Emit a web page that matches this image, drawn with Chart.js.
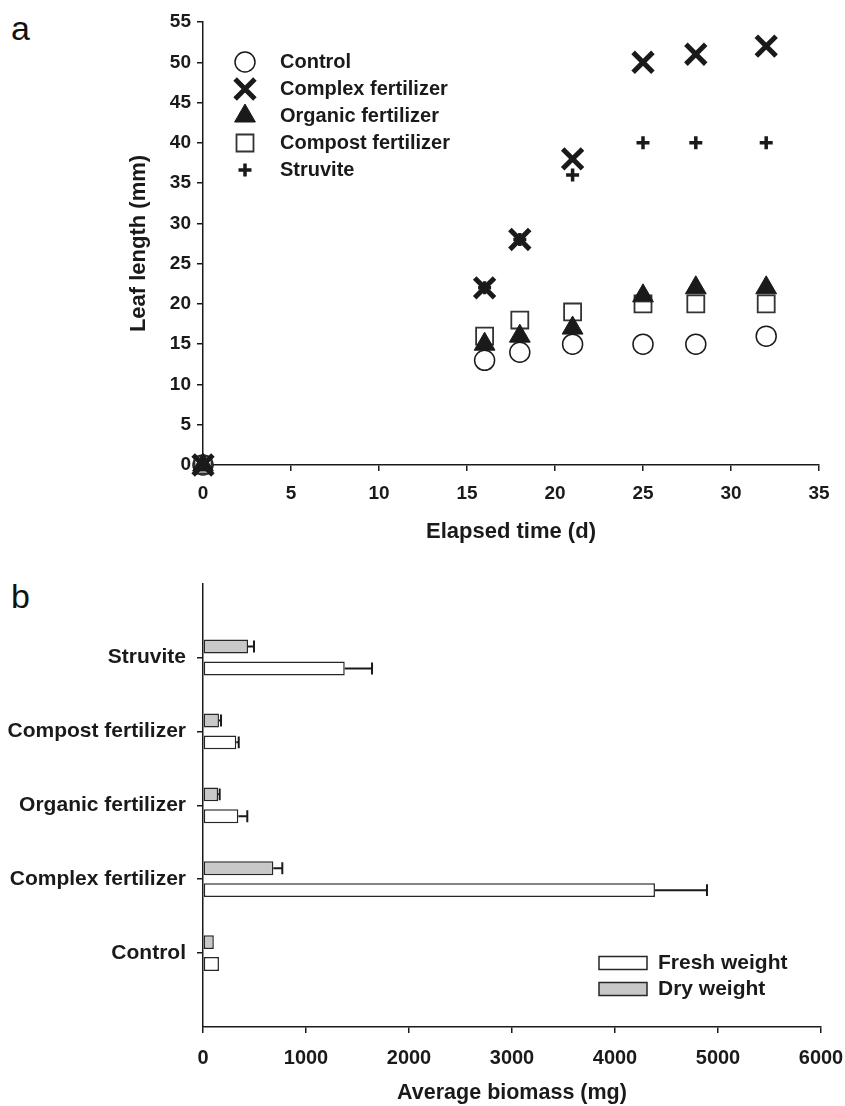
<!DOCTYPE html>
<html>
<head>
<meta charset="utf-8">
<script src="https://cdn.jsdelivr.net/npm/chart.js@4.4.0/dist/chart.umd.min.js"></script>
<style>
body { margin: 0; background: #fff; }
#wrap { position: relative; width: 845px; height: 1106px; }
canvas { position: absolute; left: 0; }
#topChart { top: 0; }
#bottomChart { top: 560px; }
.panel { position: absolute; font: 34px "Liberation Sans", Arial, sans-serif; color: #111; }
</style>
</head>
<body>
<div id="wrap">
  <div class="panel" style="left:11px;top:9px">a</div>
  <div class="panel" style="left:11px;top:577px">b</div>
  <canvas id="topChart" width="845" height="560"></canvas>
  <canvas id="bottomChart" width="845" height="546"></canvas>
</div>
<script>
// panel a - leaf length over time
const days = [0, 16, 18, 21, 25, 28, 32];
const control = [0, 13, 14, 15, 15, 15, 16];
const complexFert = [0, 22, 28, 38, 50, 51, 52];
const organicFert = [0, 15, 16, 17, 21, 22, 22];
const compostFert = [0, 16, 18, 19, 20, 20, 20];
const struvite = [0, 22, 28, 36, 40, 40, 40];
const xTicks = [0, 35, 5];   // min, max, step
const yTicks = [0, 55, 5];

// panel b - biomass
const categories = ['Struvite', 'Compost fertilizer', 'Organic fertilizer', 'Complex fertilizer', 'Control'];
const dryWeight = [437, 155, 146, 683, 105];
const dryErr = [58, 20, 16, 87, 0];
const freshWeight = [1376, 323, 343, 4388, 155];
const freshErr = [265, 24, 87, 505, 0];

const FONT = '"Liberation Sans", Arial, sans-serif';
const INK = '#1a1a1a';

function pts(ys) {
  return days.map((d, i) => ({x: d, y: ys[i]}));
}

const series = [
  {label: 'Control', order: 1, data: pts(control), pointStyle: 'circle', pointRadius: 10, pointBorderWidth: 1.5, pointBackgroundColor: '#fff', pointBorderColor: INK},
  {label: 'Complex fertilizer', data: pts(complexFert), pointStyle: 'crossRot', pointRadius: 14, pointBorderWidth: 5, pointBackgroundColor: INK, pointBorderColor: INK},
  {label: 'Organic fertilizer', data: pts(organicFert), pointStyle: 'triangle', pointRadius: 12, pointBorderWidth: 1, pointBackgroundColor: INK, pointBorderColor: INK},
  {label: 'Compost fertilizer', data: pts(compostFert), pointStyle: 'rect', pointRadius: 12, pointBorderWidth: 1.8, pointBackgroundColor: '#fff', pointBorderColor: '#333'},
  {label: 'Struvite', data: pts(struvite), pointStyle: 'cross', pointRadius: 6.5, pointBorderWidth: 3.5, pointBackgroundColor: INK, pointBorderColor: INK}
];
series.forEach(s => { s.showLine = false; s.clip = false; s.pointHoverRadius = s.pointRadius; });

// legend drawn with the same point styles as the data
const markerLegend = {
  id: 'markerLegend',
  afterDraw(chart) {
    const ctx = chart.ctx;
    ctx.save();
    chart.data.datasets.forEach((ds, i) => {
      const y = 62 + i * 27;
      ctx.fillStyle = ds.pointBackgroundColor;
      ctx.strokeStyle = ds.pointBorderColor;
      ctx.lineWidth = ds.pointBorderWidth;
      Chart.helpers.drawPoint(ctx, {pointStyle: ds.pointStyle, radius: ds.pointRadius, borderWidth: ds.pointBorderWidth, rotation: 0}, 245, y);
      ctx.fillStyle = INK;
      ctx.font = 'bold 20px ' + FONT;
      ctx.textBaseline = 'middle';
      ctx.textAlign = 'left';
      ctx.fillText(ds.label, 280, y);
    });
    ctx.restore();
  }
};

function axisGrid() {
  return {drawOnChartArea: false, drawTicks: true, tickLength: 6, color: INK, lineWidth: 1.5, offset: false};
}

// keep the plot area where it is in the figure
function noLabelPad(s) {
  s.paddingLeft = 0;
  s.paddingRight = 0;
}

new Chart(document.getElementById('topChart'), {
  type: 'scatter',
  data: {datasets: series},
  options: {
    responsive: false,
    animation: false,
    layout: {padding: {top: 22, right: 26, left: 0, bottom: 0}},
    plugins: {legend: {display: false}, tooltip: {enabled: false}},
    scales: {
      x: {
        type: 'linear', min: xTicks[0], max: xTicks[1],
        ticks: {stepSize: xTicks[2], padding: 11, color: INK, font: {family: FONT, size: 19, weight: 'bold'}},
        grid: axisGrid(),
        border: {color: INK, width: 1.5},
        title: {display: true, text: 'Elapsed time (d)', color: INK, font: {family: FONT, size: 22, weight: 'bold'}, padding: {top: 0, bottom: 15}},
        afterFit: s => { s.height = 95; noLabelPad(s); }
      },
      y: {
        type: 'linear', min: yTicks[0], max: yTicks[1],
        ticks: {stepSize: yTicks[2], padding: 6, color: INK, font: {family: FONT, size: 19, weight: 'bold'}},
        grid: axisGrid(),
        border: {color: INK, width: 1.5},
        title: {display: true, text: 'Leaf length (mm)', color: INK, font: {family: FONT, size: 22, weight: 'bold'}, padding: {top: 126, bottom: 0}},
        afterFit: s => { s.width = 203; }
      }
    }
  },
  plugins: [markerLegend]
});

// bottom chart
const errorBars = {
  id: 'errorBars',
  afterDatasetsDraw(chart) {
    const ctx = chart.ctx;
    const xs = chart.scales.x;
    ctx.save();
    ctx.strokeStyle = INK;
    ctx.lineWidth = 2;
    chart.data.datasets.forEach((ds, i) => {
      chart.getDatasetMeta(i).data.forEach((bar, j) => {
        const v = ds.data[j], e = ds.errors[j];
        if (v == null || !e) return;
        const x0 = xs.getPixelForValue(v), x1 = xs.getPixelForValue(v + e);
        const h = bar.height / 2 - 1;
        ctx.beginPath();
        ctx.moveTo(x0, bar.y); ctx.lineTo(x1, bar.y);
        ctx.moveTo(x1, bar.y - h); ctx.lineTo(x1, bar.y + h);
        ctx.stroke();
      });
    });
    ctx.restore();
  }
};

const boxLegend = {
  id: 'boxLegend',
  afterDraw(chart) {
    const ctx = chart.ctx;
    const items = chart.data.datasets.slice().reverse();
    ctx.save();
    items.forEach((ds, i) => {
      const y = 403 + i * 26;
      ctx.fillStyle = ds.backgroundColor;
      ctx.fillRect(599, y - 6.5, 48, 13);
      ctx.strokeStyle = ds.borderColor;
      ctx.lineWidth = 1.5;
      ctx.strokeRect(599, y - 6.5, 48, 13);
      ctx.fillStyle = INK;
      ctx.font = 'bold 21px ' + FONT;
      ctx.textBaseline = 'middle';
      ctx.fillText(ds.label, 658, y);
    });
    ctx.restore();
  }
};

const padded = arr => [null].concat(arr, [null]);

new Chart(document.getElementById('bottomChart'), {
  type: 'bar',
  data: {
    labels: [''].concat(categories, ['']),
    datasets: [
      {label: 'Dry weight', data: padded(dryWeight), errors: padded(dryErr), backgroundColor: '#c8c8c8', borderColor: '#262626', borderWidth: 1.5, borderSkipped: false, categoryPercentage: 0.593, barPercentage: 0.636},
      {label: 'Fresh weight', data: padded(freshWeight), errors: padded(freshErr), backgroundColor: '#ffffff', borderColor: '#262626', borderWidth: 1.5, borderSkipped: false, categoryPercentage: 0.593, barPercentage: 0.636}
    ]
  },
  options: {
    indexAxis: 'y',
    responsive: false,
    animation: false,
    layout: {padding: {top: 22, right: 24, left: 0, bottom: 0}},
    plugins: {legend: {display: false}, tooltip: {enabled: false}},
    scales: {
      x: {
        type: 'linear', min: 0, max: 6000,
        ticks: {stepSize: 1000, padding: 13, color: INK, font: {family: FONT, size: 20, weight: 'bold'}, callback: v => String(v)},
        grid: axisGrid(),
        border: {color: INK, width: 1.5},
        title: {display: true, text: 'Average biomass (mg)', color: INK, font: {family: FONT, size: 21.5, weight: 'bold'}, padding: {top: 0, bottom: 0}},
        afterFit: s => { s.height = 79; noLabelPad(s); }
      },
      y: {
        type: 'category', offset: false,
        ticks: {padding: 11, color: INK, font: {family: FONT, size: 21, weight: 'bold'}},
        grid: {drawOnChartArea: false, offset: false, tickLength: 6, lineWidth: 1.5, color: c => (c.tick && c.tick.label) ? INK : 'rgba(0,0,0,0)'},
        border: {color: INK, width: 1.5},
        afterFit: s => { s.width = 203; }
      }
    }
  },
  plugins: [errorBars, boxLegend]
});
</script>
</body>
</html>
